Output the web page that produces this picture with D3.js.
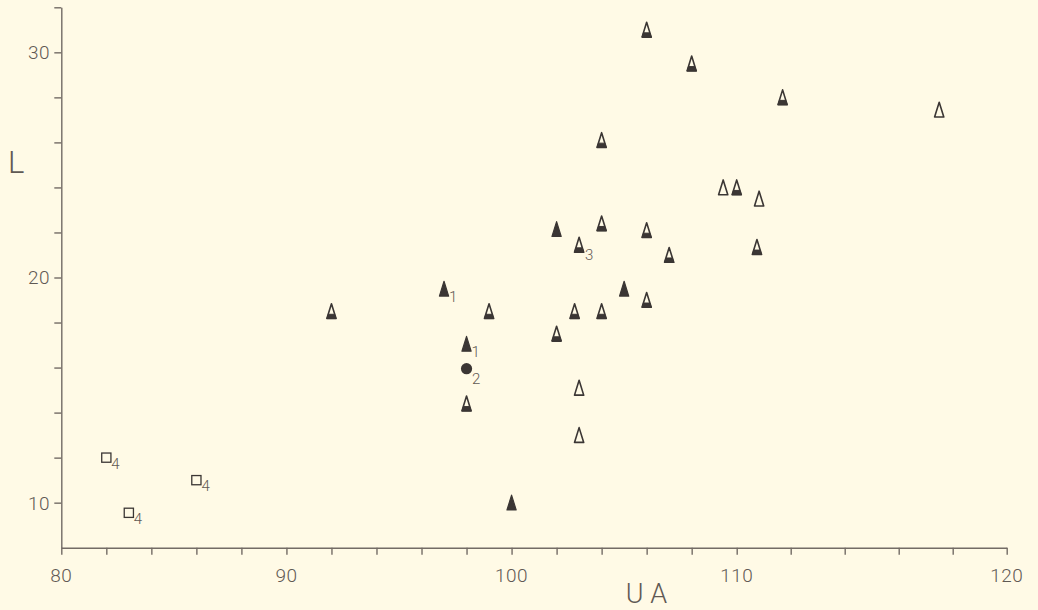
<!DOCTYPE html>
<html>
<head>
<meta charset="utf-8">
<script src="https://cdn.jsdelivr.net/npm/d3@7"></script>
<style>
  html, body { margin: 0; padding: 0; background: #fffae6; }
  svg { display: block; }
  text { font-family: Roboto, "DejaVu Sans", sans-serif; font-weight: 300; }
</style>
</head>
<body>
<svg id="chart" width="1038" height="610"></svg>
<script>
// UA (horizontal) against L (vertical); every series is a list of [UA, L] pairs.
const halfFilledTriangles = [
  [106, 31], [108, 29.5], [111.7, 28], [104, 26.1], [110, 24],
  [104, 22.4], [106, 22.1], [103, 21.45], [107, 21], [110.75, 21.35],
  [106, 19], [92, 18.5], [99, 18.5], [102.8, 18.5], [104, 18.5],
  [102, 17.5], [98, 14.4]
];
const halfFilledTags = ["", "", "", "", "", "", "", "3", "", "", "", "", "", "", "", "", ""];

const openTriangles = [
  [117.5, 27.45], [109.4, 24], [110.83, 23.5], [103, 15.1], [103, 13]
];

const filledTriangles = [
  [102, 22.15], [97, 19.5], [105, 19.5], [98, 17.05], [100, 10]
];
const filledTriangleTags = ["", "1", "", "1", ""];

const filledCircles = [[98, 15.95]];
const filledCircleTags = ["2"];

const openSquares = [[82, 12], [83, 9.55], [86, 11]];
const openSquareTags = ["4", "4", "4"];

const xTickLabels = [80, 90, 100, 110, 120];
const yTickLabels = [10, 20, 30];
const xMinorTicks = d3.range(80, 121, 2);
const yMinorTicks = d3.range(10, 33, 2);

const ink = "#3b3634";
const axisInk = "#736b65";
const textInk = "#5f5954";
const paper = "#fffae6";

const svg = d3.select("#chart");
svg.append("rect").attr("width", 1038).attr("height", 610).attr("fill", paper);

// The printed UA axis gives the last decade a wider span than the others.
const x = d3.scaleLinear().domain([80, 110, 120]).range([61.3, 736.7, 1006.7]);
const y = d3.scaleLinear().domain([8, 32]).range([547.7, 7.3]);

// Axes: short outward ticks every 2 units, labels only on the decades.
const xAxis = svg.append("g")
  .attr("transform", `translate(0,${y(8)})`)
  .call(d3.axisBottom(x).tickValues(xMinorTicks).tickSize(7).tickSizeOuter(0).tickFormat(""));
const yAxis = svg.append("g")
  .attr("transform", `translate(${x(80)},0)`)
  .call(d3.axisLeft(y).tickValues(yMinorTicks).tickSize(7).tickSizeOuter(0).tickFormat(""));
[xAxis, yAxis].forEach(g => {
  g.selectAll("path, line").attr("stroke", axisInk).attr("stroke-width", 1.4);
});

svg.append("g").selectAll("text").data(xTickLabels).join("text")
  .attr("x", d => x(d)).attr("y", 582)
  .attr("text-anchor", "middle")
  .attr("fill", textInk).attr("font-size", 19).attr("letter-spacing", 0.5)
  .text(d => d);

svg.append("g").selectAll("text").data(yTickLabels).join("text")
  .attr("x", 50).attr("y", d => y(d)).attr("dy", "0.36em")
  .attr("text-anchor", "end")
  .attr("fill", textInk).attr("font-size", 19).attr("letter-spacing", 0.5)
  .text(d => d);

svg.append("text").attr("x", 8).attr("y", 173)
  .attr("fill", textInk).attr("font-size", 31).text("L");
svg.append("text").attr("x", 650).attr("y", 603).attr("text-anchor", "middle")
  .attr("fill", textInk).attr("font-size", 27).attr("letter-spacing", 7).text("UA");

// Marker shapes
const triOutline = "M0,-7.5 L4.6,7.3 L-4.6,7.3 Z";
const triBase = "M-3.2,3.0 L3.2,3.0 L4.6,7.3 L-4.6,7.3 Z";

const marks = svg.append("g");

marks.selectAll(".half").data(halfFilledTriangles).join("g").attr("class", "half")
  .attr("transform", d => `translate(${x(d[0])},${y(d[1])})`)
  .each(function () {
    const g = d3.select(this);
    g.append("path").attr("d", triOutline).attr("fill", paper)
      .attr("stroke", ink).attr("stroke-width", 1.6).attr("stroke-linejoin", "round");
    g.append("path").attr("d", triBase).attr("fill", ink)
      .attr("stroke", ink).attr("stroke-width", 1).attr("stroke-linejoin", "round");
  });

marks.selectAll(".open").data(openTriangles).join("path").attr("class", "open")
  .attr("transform", d => `translate(${x(d[0])},${y(d[1])})`)
  .attr("d", triOutline).attr("fill", paper)
  .attr("stroke", ink).attr("stroke-width", 1.6).attr("stroke-linejoin", "round");

marks.selectAll(".filled").data(filledTriangles).join("path").attr("class", "filled")
  .attr("transform", d => `translate(${x(d[0])},${y(d[1])})`)
  .attr("d", triOutline).attr("fill", ink)
  .attr("stroke", ink).attr("stroke-width", 1.2).attr("stroke-linejoin", "round");

marks.selectAll(".dot").data(filledCircles).join("circle").attr("class", "dot")
  .attr("cx", d => x(d[0])).attr("cy", d => y(d[1])).attr("r", 5.6).attr("fill", ink);

marks.selectAll(".sq").data(openSquares).join("rect").attr("class", "sq")
  .attr("x", d => x(d[0]) - 4.6).attr("y", d => y(d[1]) - 4.6)
  .attr("width", 9.2).attr("height", 9.2)
  .attr("fill", "none").attr("stroke", ink).attr("stroke-width", 1.3);

// Subscript tags next to marked points
function tags(points, labels, dx, dy) {
  svg.append("g").selectAll("text")
    .data(points.map((p, i) => ({ p, t: labels[i] })).filter(d => d.t))
    .join("text")
    .attr("x", d => x(d.p[0]) + dx).attr("y", d => y(d.p[1]) + dy)
    .attr("fill", textInk).attr("font-size", 15).text(d => d.t);
}
tags(filledTriangles, filledTriangleTags, 5, 13);
tags(halfFilledTriangles, halfFilledTags, 6, 15);
tags(filledCircles, filledCircleTags, 5.5, 15);
tags(openSquares, openSquareTags, 5, 11);
</script>
</body>
</html>
